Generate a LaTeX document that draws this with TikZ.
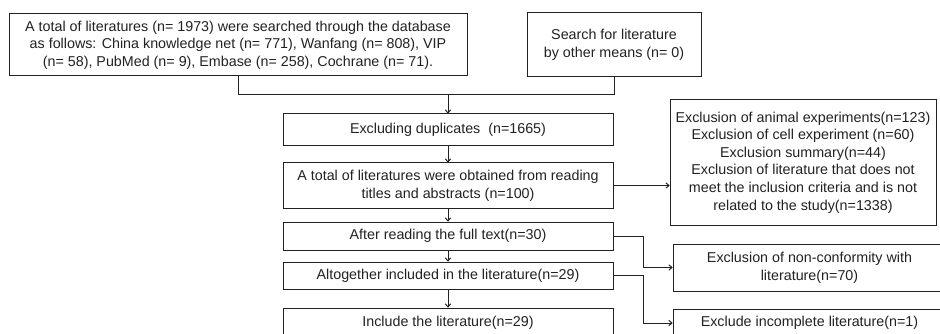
\documentclass[tikz,border=0pt]{standalone}
\usepackage{fontspec}
\setmainfont{Liberation Sans}
\usetikzlibrary{arrows.meta}
\definecolor{ink}{HTML}{222222}
\begin{document}
\begin{tikzpicture}[x=1pt,y=-1pt,
  box/.style={draw=ink, line width=1pt, rectangle, align=center, text=ink,
    font=\fontsize{14.3}{17.6}\selectfont, inner sep=0pt},
  conn/.style={draw=ink, line width=1pt},
  arr/.style={conn, -{To[length=4pt,width=6pt]}}]
\useasboundingbox (0,0) rectangle (940,334);
\clip (0,0) rectangle (940,334);
\fill[white] (0,0) rectangle (940,334);
\node[box, minimum width=458, minimum height=62] (A) at (238,45)
  {A total of literatures (n= 1973) were searched through the database\\
   as follows: China knowledge net (n= 771), Wanfang (n= 808), VIP\\
   (n= 58), PubMed (n= 9), Embase (n= 258), Cochrane (n= 71).};
\node[box, minimum width=174, minimum height=64] (B) at (614,45)
  {Search for literature\\by other means (n= 0)};
\node[box, minimum width=330, minimum height=32] (Dup) at (448,130)
  {Excluding duplicates~ (n=1665)};
\node[box, minimum width=330, minimum height=45] (Obt) at (448,185.5)
  {A total of literatures were obtained from reading\\titles and abstracts (n=100)};
\node[box, minimum width=330, minimum height=28] (After) at (448,236)
  {After reading the full text(n=30)};
\node[box, minimum width=330, minimum height=27] (Alt) at (448,275.5)
  {Altogether included in the literature(n=29)};
\node[box, minimum width=330, minimum height=30] (Incl) at (448,323)
  {Include the literature(n=29)};
\node[box, minimum width=266, minimum height=125] (Ex1) at (803,162.5)
  {Exclusion of animal experiments(n=123)\\
   Exclusion of cell experiment (n=60)\\
   Exclusion summary(n=44)\\
   Exclusion of literature that does not\\
   meet the inclusion criteria and is not\\
   related to the study(n=1338)};
\node[box, minimum width=273, minimum height=47] (Ex2) at (809.5,267.5)
  {Exclusion of non-conformity with\\literature(n=70)};
\node[box, minimum width=273, minimum height=28] (Ex3) at (809.5,323)
  {Exclude incomplete literature(n=1)};
\coordinate (j) at (448,95);
\draw[conn] (A.south) -- (A.south |- j) -- (B.south |- j) -- (B.south);
\draw[arr] (j) -- (Dup.north);
\draw[arr] (Dup.south) -- (Obt.north);
\draw[arr] (Obt.south) -- (After.north);
\draw[arr] (After.south) -- (Alt.north);
\draw[arr] (Alt.south) -- (Incl.north);
\draw[arr] (Obt.east) -- (Ex1.west |- Obt.east);
\draw[arr] (After.east) -- ++(30,0) |- (Ex2.west);
\draw[arr] (Alt.east) -- ++(30,0) |- (Ex3.west);
\end{tikzpicture}
\end{document}
